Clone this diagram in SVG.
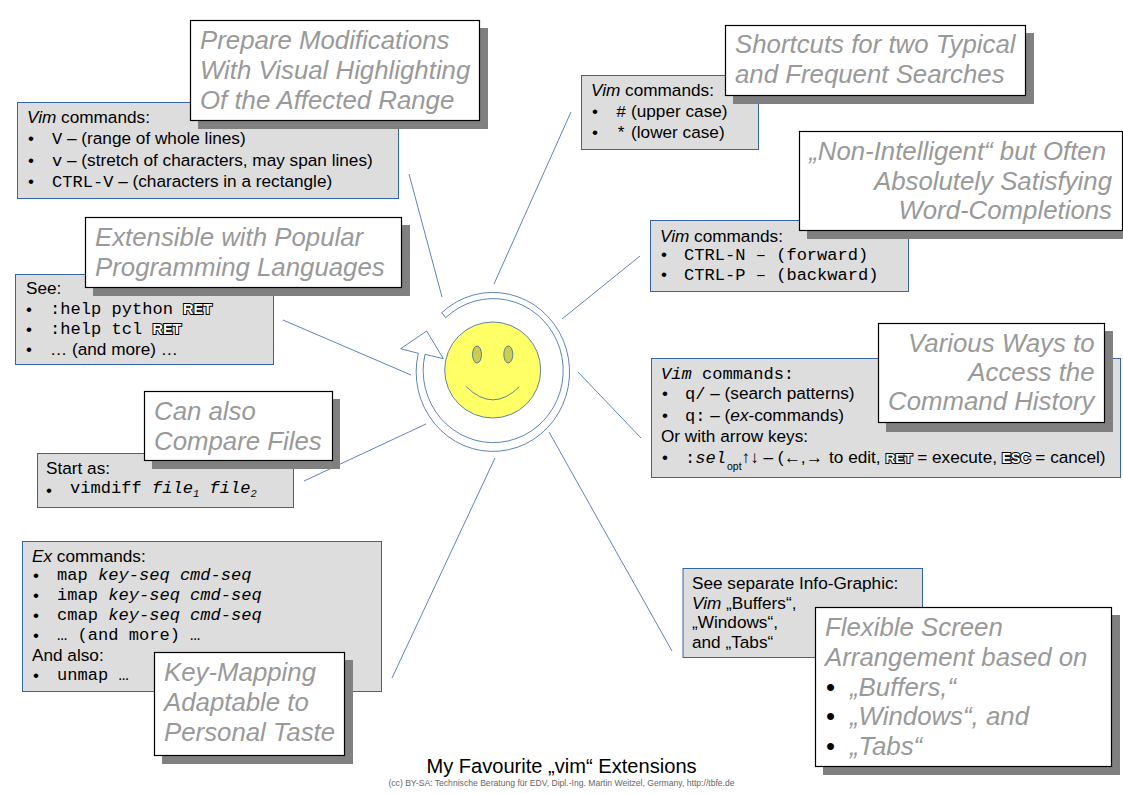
<svg xmlns="http://www.w3.org/2000/svg" width="1123" height="794" viewBox="0 0 1123 794">
<style>
text{font-family:"Liberation Sans",Arial,sans-serif;fill:#000;white-space:pre}
.t{font-size:17.200px}
.m{font-family:"Liberation Mono","Courier New",monospace;font-size:17.070px}
.i{font-style:italic}
.c{font-size:25.800px;font-style:italic;fill:#999}
.d{font-size:25.800px;fill:#000}
.e{text-anchor:end}
.b{font-size:17px}
.box{fill:#ddd;stroke:#3465a4;stroke-width:1}
.sh{fill:#808080}
.card{fill:#fff;stroke:#000;stroke-width:1.2}
.ln{fill:none;stroke:#3465a4;stroke-width:.8}
.k{font-family:"Liberation Sans",Arial,sans-serif;font-weight:bold;fill:#fff;stroke:#000;stroke-width:2px;paint-order:stroke}
.s{font-size:10.500px}
</style>
<g id="connectors">
<path class="ln" d="M409 174L442 297M571 112L494 284M640 256L562 319M578 372L641 438M549 432L672 651M495 458L392 678M426 424L304 481M283 320L411 375"/>
</g>
<g id="smiley">
<path fill="#fff" stroke="#3465a4" stroke-width=".8" d="M441.700 312.700A76.700 79.500 0 1 1 418.300 353.300L400.700 348.700L426.700 331L443.300 358.700L425 354.300A70 72 0 1 0 445.700 317.700Z"/>
<circle cx="492.700" cy="370" r="48" fill="#ff6" stroke="#3465a4" stroke-width=".8"/>
<ellipse cx="477" cy="354.500" rx="4.500" ry="8.500" fill="#cc5" stroke="#3465a4" stroke-width=".8"/>
<ellipse cx="508.300" cy="354.500" rx="4.500" ry="8.500" fill="#cc5" stroke="#3465a4" stroke-width=".8"/>
<path d="M466.300 386.700Q493 413 519.300 386.700" fill="none" stroke="#3465a4" stroke-width=".8"/>
</g>
<g id="node-visual">
<rect class="box" x="17.500" y="102.500" width="381" height="96"/>
<text class="t" x="27" y="123"><tspan class="i">Vim</tspan> commands:</text>
<text class="b" x="28" y="144">•</text><text class="t" x="52" y="144"><tspan class="m">V</tspan> – (range of whole lines)</text>
<text class="b" x="28" y="166">•</text><text class="t" x="52" y="166"><tspan class="m">v</tspan> – (stretch of characters, may span lines)</text>
<text class="b" x="28" y="187">•</text><text class="t" x="52" y="187"><tspan class="m">CTRL-V</tspan> – (characters in a rectangle)</text>
<rect class="sh" x="198" y="28" width="290" height="101"/>
<rect class="card" x="190.500" y="20.500" width="289" height="100"/>
<text class="c" x="200" y="49">Prepare Modifications</text>
<text class="c" x="200" y="79">With Visual Highlighting</text>
<text class="c" x="200" y="109">Of the Affected Range</text>
</g>
<g id="node-search">
<rect class="box" x="581.500" y="75.500" width="177" height="74"/>
<text class="t" x="591" y="96"><tspan class="i">Vim</tspan> commands:</text>
<text class="b" x="592" y="117">•</text><text class="t" x="616" y="117"><tspan class="m">#</tspan> (upper case)</text>
<text class="b" x="592" y="138">•</text><text class="t" x="616" y="138"><tspan class="m">*</tspan> (lower case)</text>
<rect class="sh" x="733" y="33" width="301" height="71"/>
<rect class="card" x="725.500" y="25.500" width="300" height="70"/>
<text class="c" x="735" y="53">Shortcuts for two Typical</text>
<text class="c" x="735" y="83">and Frequent Searches</text>
</g>
<g id="node-completion">
<rect class="box" x="650.500" y="220.500" width="258" height="71"/>
<text class="t" x="660" y="242"><tspan class="i">Vim</tspan> commands:</text>
<text class="b" x="661" y="260">•</text><text class="m" x="684" y="260">CTRL-N – (forward)</text>
<text class="b" x="661" y="280">•</text><text class="m" x="684" y="280">CTRL-P – (backward)</text>
<rect class="sh" x="807" y="139" width="316" height="100"/>
<rect class="card" x="799.500" y="131.500" width="323" height="99"/>
<text class="c e" x="1106" y="160">„Non-Intelligent“ but Often</text>
<text class="c e" x="1112" y="190">Absolutely Satisfying</text>
<text class="c e" x="1112" y="219">Word-Completions</text>
</g>
<g id="node-languages">
<rect class="box" x="15.500" y="274.500" width="258" height="90"/>
<text class="t" x="26" y="294">See:</text>
<text class="b" x="26" y="315">•</text><text class="m" x="50" y="314">:help python <tspan class="k" font-size="14.500">RET</tspan></text>
<text class="b" x="26" y="335">•</text><text class="m" x="50" y="334">:help tcl <tspan class="k" font-size="14.500">RET</tspan></text>
<text class="b" x="26" y="355">•</text><text class="t" x="50" y="355">… (and more) …</text>
<rect class="sh" x="93" y="225" width="317" height="71"/>
<rect class="card" x="85.500" y="217.500" width="316" height="70"/>
<text class="c" x="95" y="246">Extensible with Popular</text>
<text class="c" x="95" y="276">Programming Languages</text>
</g>
<g id="node-history">
<rect class="box" x="651.500" y="358.500" width="469" height="119"/>
<text class="m" x="661" y="379"><tspan class="i">Vim</tspan> commands:</text>
<text class="b" x="662" y="399">•</text><text class="t" x="685" y="399"><tspan class="m">q/</tspan> – (search patterns)</text>
<text class="b" x="662" y="421">•</text><text class="t" x="685" y="421"><tspan class="m">q:</tspan> – (<tspan class="i">ex</tspan>-commands)</text>
<text class="t" x="661" y="442">Or with arrow keys:</text>
<text class="b" x="662" y="463">•</text><text class="t" x="685" y="463"><tspan class="m">:<tspan class="i">sel</tspan></tspan><tspan class="s" dy="7" dx="1">opt</tspan><tspan dy="-7">↑↓ – (←,→</tspan><tspan dx="1.500"> to edit, </tspan><tspan class="k" font-size="13.500">RET</tspan> = execute, <tspan class="k" font-size="14">ESC</tspan> = cancel)</text>
<rect class="sh" x="886" y="331" width="227" height="101"/>
<rect class="card" x="878.500" y="323.500" width="226" height="99"/>
<text class="c e" x="1094.500" y="352">Various Ways to</text>
<text class="c e" x="1094.500" y="381">Access the</text>
<text class="c e" x="1094.500" y="410">Command History</text>
</g>
<g id="node-compare">
<rect class="box" x="37.500" y="453.500" width="256" height="54"/>
<text class="t" x="46" y="474">Start as:</text>
<text class="b" x="46" y="496">•</text><text class="m" x="70" y="493">vimdiff <tspan class="i">file</tspan><tspan class="i s" dy="4">1</tspan><tspan dy="-4"> </tspan><tspan class="i">file</tspan><tspan class="i s" dy="4">2</tspan></text>
<rect class="sh" x="152" y="399" width="188" height="70"/>
<rect class="card" x="144.500" y="391.500" width="188" height="69"/>
<text class="c" x="154" y="420">Can also</text>
<text class="c" x="154" y="450">Compare Files</text>
</g>
<g id="node-mapping">
<rect class="box" x="22.500" y="541.500" width="359" height="150"/>
<text class="t" x="32" y="562"><tspan class="i">Ex</tspan> commands:</text>
<text class="b" x="33" y="581">•</text><text class="m" x="57" y="580">map <tspan class="i">key-seq cmd-seq</tspan></text>
<text class="b" x="33" y="601">•</text><text class="m" x="57" y="600">imap <tspan class="i">key-seq cmd-seq</tspan></text>
<text class="b" x="33" y="621">•</text><text class="m" x="57" y="620">cmap <tspan class="i">key-seq cmd-seq</tspan></text>
<text class="b" x="33" y="641">•</text><text class="m" x="57" y="640">… (and more) …</text>
<text class="t" x="32" y="661">And also:</text>
<text class="b" x="33" y="681">•</text><text class="m" x="57" y="680">unmap …</text>
<rect class="sh" x="162" y="660" width="191" height="104"/>
<rect class="card" x="154.500" y="652.500" width="190" height="103"/>
<text class="c" x="164" y="681">Key-Mapping</text>
<text class="c" x="164" y="711">Adaptable to</text>
<text class="c" x="164" y="741">Personal Taste</text>
</g>
<g id="node-screen">
<rect class="box" x="683" y="568.500" width="239.500" height="89"/>
<text class="t" x="692" y="589">See separate Info-Graphic:</text>
<text class="t" x="692" y="609"><tspan class="i">Vim</tspan> „Buffers“,</text>
<text class="t" x="692" y="628">„Windows“,</text>
<text class="t" x="692" y="648">and „Tabs“</text>
<rect class="sh" x="823" y="615" width="297" height="160"/>
<rect class="card" x="815.500" y="607.500" width="296" height="159"/>
<text class="c" x="825" y="636">Flexible Screen</text>
<text class="c" x="825" y="666">Arrangement based on</text>
<text class="d" x="826" y="696">•</text><text class="c" x="850" y="696">„Buffers,“</text>
<text class="d" x="826" y="725">•</text><text class="c" x="850" y="725">„Windows“, and</text>
<text class="d" x="826" y="755">•</text><text class="c" x="850" y="755">„Tabs“</text>
</g>
<g id="title">
<text x="561.500" y="773" font-size="20.100" text-anchor="middle">My Favourite „vim“ Extensions</text>
<text x="561.500" y="786" font-size="8.600" text-anchor="middle" style="fill:#666">(cc) BY-SA: Technische Beratung für EDV, Dipl.-Ing. Martin Weitzel, Germany, http://tbfe.de</text>
</g>
</svg>
